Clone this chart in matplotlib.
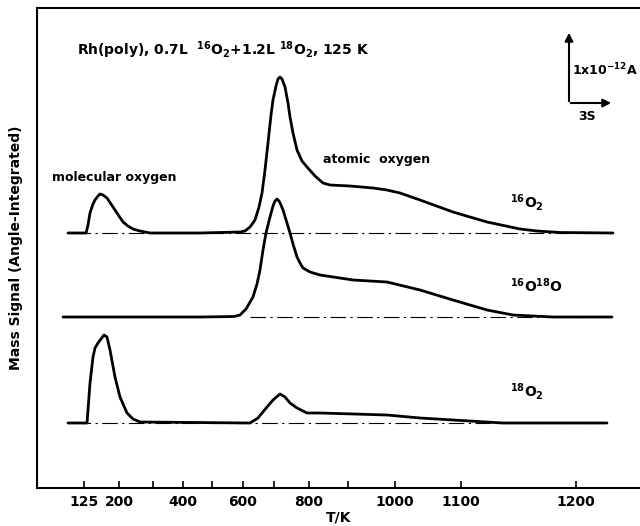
import numpy as np
import matplotlib.pyplot as plt

plt.rcParams['font.family'] = 'DejaVu Sans'
plt.rcParams['mathtext.default'] = 'bf'

# x axis: time after the start of heating (chart units), labelled with temperature
tick_temps = [125, 200, 300, 400, 500, 600, 700, 800, 900, 1000, 1100, 1200]
tick_time = [0, 35, 69, 99, 128, 159, 190, 225, 264, 311, 377, 492]
labelled = [125, 200, 400, 600, 800, 1000, 1100, 1200]

# desorption traces (time, signal a.u.)
o16_t = [-16, 2, 4, 6, 9, 11, 14, 16, 19, 23, 27, 31, 35, 39, 44, 49, 56, 66, 116, 156,
         161, 166, 171, 175, 178, 181, 184, 187, 189, 192, 194, 196, 198, 201, 204, 206,
         209, 213, 218, 223, 231, 239, 246, 266, 289, 303, 316, 336, 369, 403, 436, 453,
         476, 529]
o16_s = [0, 0, 8, 20, 29, 33, 37, 39, 38, 35, 29, 23, 17, 11, 7, 4, 2, 0, 0, 1,
         2, 6, 13, 26, 40, 63, 90, 118, 133, 147, 154, 156, 154, 146, 130, 116,
         100, 83, 72, 66, 57, 50, 48, 47, 45, 43, 40, 33, 21, 11, 4, 2,
         0.5, 0]

mixed_t = [-21, 116, 150, 156, 162, 169, 173, 176, 179, 182, 186, 189, 191, 193, 195,
           197, 199, 203, 206, 209, 213, 216, 219, 226, 236, 269, 303, 336, 369, 403,
           429, 469, 528]
mixed_s = [0, 0, 0.5, 2, 8, 20, 33, 47, 67, 84, 100, 111, 116, 118, 116,
           112, 107, 94, 84, 73, 60, 54, 49, 45, 42, 37, 35, 27, 17, 7,
           2, 0, 0]

o18_t = [-16, 3, 4, 6, 9, 11, 14, 17, 20, 23, 26, 31, 36, 43, 49, 56, 166, 174, 183,
         189, 196, 201, 206, 213, 223, 236, 303, 336, 369, 419, 523]
o18_s = [0, 0, 13, 40, 66, 75, 80, 84, 88, 86, 73, 46, 26, 10, 4, 1, 0, 5, 16,
         23, 29, 26, 20, 15, 10, 10, 8, 5, 3, 0, 0]

offsets = [255, 171, 65]
names = ['$^{16}$O$_2$', '$^{16}$O$^{18}$O', '$^{18}$O$_2$']
base_start = [-9, 166, -9]
base_end = [521, 516, 516]

fig = plt.figure(figsize=(6.4, 5.26), dpi=100)
ax = fig.add_axes([37 / 640, 1 - 488 / 526, 603 / 640, 480 / 526])

traces = [(o16_t, o16_s), (mixed_t, mixed_s), (o18_t, o18_s)]
for (t, s), off, name, b0, b1 in zip(traces, offsets, names, base_start, base_end):
    ax.plot(t, np.array(s) + off, color='black', linewidth=2.0,
            solid_capstyle='round', solid_joinstyle='round')
    ax.plot([b0, b1], [off, off], color='black', linewidth=0.8,
            linestyle=(0, (14, 4, 2, 4)))
    ax.text(426, off + 31, name, fontsize=10, fontweight='bold', ha='left', va='center')

ax.set_xlim(-47, 556)
ax.set_ylim(0, 480)

ax.set_xticks(tick_time)
ax.set_xticklabels([str(T) if T in labelled else '' for T in tick_temps],
                   fontsize=10, fontweight='bold')
ax.tick_params(axis='x', direction='in', length=5, width=1.2, pad=5)
ax.set_yticks([])
ax.spines['right'].set_visible(False)
for sp in ['left', 'bottom', 'top']:
    ax.spines[sp].set_linewidth(1.5)

ax.set_xlabel('T/K', fontsize=10, fontweight='bold', labelpad=1)
ax.set_ylabel('Mass Signal (Angle-Integrated)', fontsize=10, fontweight='bold', labelpad=10)

ax.text(-7, 438, 'Rh(poly), 0.7L  $^{16}$O$_2$+1.2L $^{18}$O$_2$, 125 K',
        fontsize=10, fontweight='bold', va='center')
ax.text(-32, 311, 'molecular oxygen', fontsize=9, fontweight='bold', va='center')
ax.text(239, 328, 'atomic  oxygen', fontsize=9, fontweight='bold', va='center')

# scale bars
ax.annotate('', xy=(485, 458), xytext=(485, 384),
            arrowprops=dict(arrowstyle='-|>', color='black', lw=1.5, mutation_scale=12))
ax.annotate('', xy=(530, 385), xytext=(484, 385),
            arrowprops=dict(arrowstyle='-|>', color='black', lw=1.5, mutation_scale=12))
ax.text(488, 418, '1x10$^{-12}$A', fontsize=9, fontweight='bold', va='center')
ax.text(503, 371, '3S', fontsize=9, fontweight='bold', ha='center', va='center')

fig.savefig('out.png', dpi=100)
